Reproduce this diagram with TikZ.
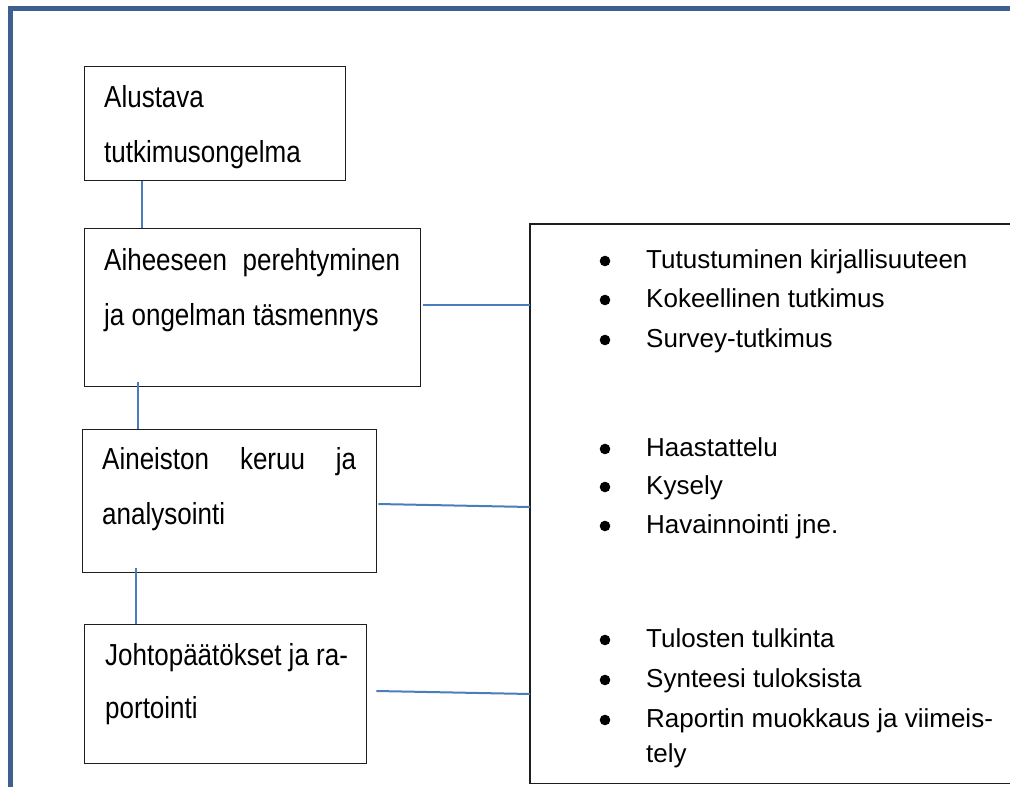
\documentclass[tikz,border=0pt]{standalone}
\usepackage{fontspec}
\setmainfont{Liberation Sans}
\usetikzlibrary{calc}

\definecolor{framecol}{RGB}{61,96,145}
\definecolor{linkcol}{RGB}{74,126,187}
\definecolor{edgecol}{RGB}{30,30,30}

\tikzset{
  box/.style={draw=edgecol, line width=1.3pt, rectangle, anchor=north west, inner sep=0pt},
  area/.style={rectangle, anchor=north west, inner sep=0pt},
  link/.style={draw=linkcol, line width=2pt},
  boxtext/.style={anchor=base west, inner sep=0pt, font=\fontsize{26}{30}\selectfont},
  listtext/.style={anchor=base west, inner sep=0pt, font=\fontsize{26}{30}\selectfont},
}
% taller lettering used in the step boxes
\newcommand{\tallline}[1]{\scalebox{1}[1.17]{#1}}

\begin{document}
\begin{tikzpicture}[x=1pt, y=-1pt]
  \useasboundingbox (0,0) rectangle (1010,787);
  \clip (0,0) rectangle (1010,787);

  % page frame
  \draw[framecol, line width=4.5pt] (10.5,800) -- (10.5,8.5) -- (1100,8.5);

  % step boxes
  \node[box, minimum width=261pt, minimum height=114pt] (b1) at (84,66) {};
  \node[box, minimum width=336pt, minimum height=158pt] (b2) at (84,228) {};
  \node[box, minimum width=294pt, minimum height=143pt] (b3) at (82,429) {};
  \node[box, minimum width=282pt, minimum height=139pt] (b4) at (84,624) {};
  % list area; its right side lies beyond the page edge
  \node[area, minimum width=600pt, minimum height=559pt] (R) at (530,224) {};
  \draw[edgecol, line width=1.3pt] (R.north east) -- (R.north west) -- (R.south west) -- (R.south east);

  % step texts
  \node[boxtext] (t1a) at (104,107) {\tallline{Alustava}};
  \node[boxtext] (t1b) at (104,162) {\tallline{tutkimusongelma}};
  \node[boxtext] (t2a) at (104,270) {\tallline{\hbox to 296pt{Aiheeseen\hfill perehtyminen}}};
  \node[boxtext] (t2b) at (104,325) {\tallline{ja ongelman täsmennys}};
  \node[boxtext] (t3a) at (102,469) {\tallline{\hbox to 254pt{Aineiston\hfill keruu\hfill ja}}};
  \node[boxtext] (t3b) at (102,524) {\tallline{analysointi}};
  \node[boxtext] (t4a) at (105,665) {\tallline{Johtopäätökset ja ra-}};
  \node[boxtext] (t4b) at (105,718) {\tallline{portointi}};

  % list entries
  \foreach \yy/\txt/\bul in {
      268/Tutustuminen kirjallisuuteen/1,
      307/Kokeellinen tutkimus/1,
      347/Survey-tutkimus/1,
      456/Haastattelu/1,
      494/Kysely/1,
      533/Havainnointi jne./1,
      647/Tulosten tulkinta/1,
      687/Synteesi tuloksista/1,
      727/Raportin muokkaus ja viimeis-/1,
      762/tely/0} {
    \node[listtext] at (646,\yy) {\txt};
    \ifnum\bul=1 \fill (605,\yy-7) circle (5.3pt); \fi
  }

  % connectors
  \draw[link] ($(b1.south west)+(58,0)$) -- ($(b2.north west)+(58,0)$);
  \draw[link] ($(b2.south west)+(54,-5)$) -- ($(b3.north west)+(56,0)$);
  \draw[link] ($(b3.south west)+(54,-5)$) -- ($(b4.north west)+(52,0)$);
  \draw[link] ($(b2.north east)+(2,77)$) -- ($(R.north west)+(0,81)$);
  \draw[link] ($(b3.north east)+(1,75)$) -- ($(R.north west)+(0,283)$);
  \draw[link] ($(b4.north east)+(9,67)$) -- ($(R.north west)+(0,470)$);
\end{tikzpicture}
\end{document}
